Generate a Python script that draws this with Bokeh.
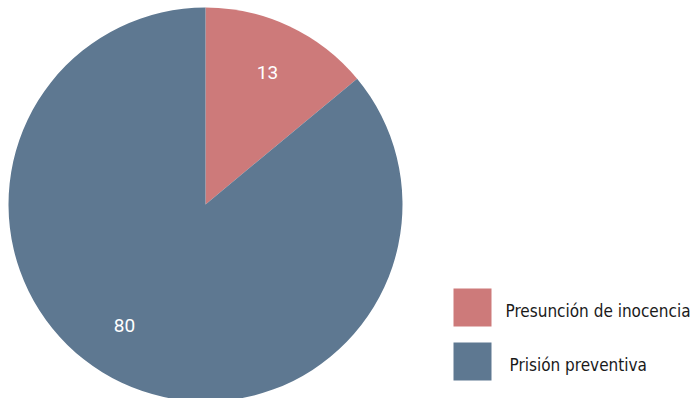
import math
import numpy as np
from bokeh.plotting import figure
from bokeh.models import ColumnDataSource
from bokeh.core.properties import value
from bokeh.embed import file_html
from bokeh.resources import INLINE

categories = ["Presunción de inocencia", "Prisión preventiva"]
values = [13, 80]
colors = ["#CD7A7A", "#5E7891"]

W, H = 695, 398
p = figure(width=W, height=H, x_range=(0, W), y_range=(0, H),
           output_backend="svg", toolbar_location=None, min_border=0)
p.axis.visible = False
p.grid.visible = False
p.outline_line_color = None
p.background_fill_color = "white"

def px(x, y):
    return x, H - y

cx, cy = px(205, 204)
R = 197

vals = np.array(values, dtype=float)
frac = vals / vals.sum()
ends = np.pi / 2 - 2 * np.pi * np.cumsum(frac)
starts = np.concatenate([[np.pi / 2], ends[:-1]])
src = ColumnDataSource(dict(start=starts, end=ends, color=colors, cat=categories))
p.wedge(x=cx, y=cy, radius=R, start_angle="end", end_angle="start",
        fill_color="color", line_color=None, source=src)

# labels
label_angle_shift = [0.0, -0.15]
lx, ly, lt = [], [], []
for i, v in enumerate(values):
    mid = (starts[i] + ends[i]) / 2 + label_angle_shift[i]
    lx.append(cx + 0.74 * R * math.cos(mid))
    ly.append(cy + 0.74 * R * math.sin(mid))
    lt.append(str(v))
p.text(x=lx, y=ly, text=lt, text_color="white", text_font=value("Roboto"),
       text_font_size="19px", text_align="center", text_baseline="middle")

# legend
sq_x0 = 453
sq_y0 = [288, 342]
txt_x = [505, 509]
for i, c in enumerate(categories):
    x0, y0 = px(sq_x0, sq_y0[i])
    p.rect(x=x0 + 19, y=y0 - 19, width=38, height=38, fill_color=colors[i], line_color=None)
    tx, ty = px(txt_x[i], sq_y0[i] + 22)
    p.text(x=[tx], y=[ty], text=[c], text_color="#1a1a1a",
           text_font=value("DejaVu Sans Condensed"), text_font_size="17px",
           text_align="left", text_baseline="middle")

open("out.html", "w").write(file_html(p, INLINE))
